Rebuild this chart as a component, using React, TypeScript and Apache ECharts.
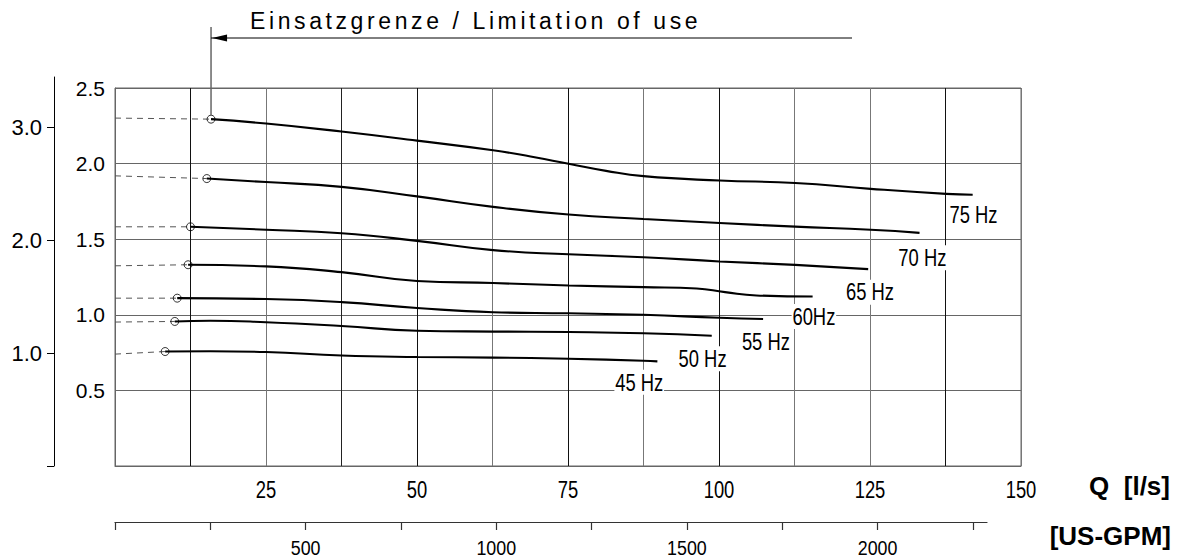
import React, { useEffect, useRef } from "react";
import * as echarts from "echarts";

const FONT = "'Liberation Sans', Arial, Helvetica, sans-serif";

// Tick labels
const qTickLabels = [25, 50, 75, 100, 125, 150];
const gpmTicks = [0, 250, 500, 750, 1000, 1250, 1500, 1750, 2000, 2250];
const gpmTickLabels = [500, 1000, 1500, 2000];
const outerTicks = [0, 1, 2, 3];
const outerTickLabels = [1, 2, 3];

// Series names
const frequencies = ["75 Hz", "70 Hz", "65 Hz", "60Hz", "55 Hz", "50 Hz", "45 Hz"];

// Curves: [Q l/s, value]
const curve75 = [[15.9, 2.294], [25.0, 2.265], [37.5, 2.212], [50.0, 2.152], [62.6, 2.088], [68.8, 2.047], [75.1, 1.999], [81.3, 1.952], [87.5, 1.917], [100.1, 1.888], [112.6, 1.872], [125.1, 1.833], [137.6, 1.800], [142.0, 1.794]];
const curve70 = [[15.2, 1.901], [25.0, 1.878], [37.5, 1.846], [50.0, 1.783], [62.6, 1.714], [75.1, 1.663], [87.5, 1.634], [100.1, 1.607], [112.6, 1.583], [125.1, 1.562], [133.2, 1.542]];
const curve65 = [[12.5, 1.582], [25.0, 1.563], [37.5, 1.539], [50.0, 1.489], [62.6, 1.428], [75.1, 1.400], [87.5, 1.381], [100.1, 1.353], [112.6, 1.330], [124.7, 1.302]];
const curve60 = [[12.1, 1.331], [25.0, 1.320], [37.5, 1.282], [50.0, 1.224], [62.6, 1.210], [75.1, 1.194], [87.5, 1.183], [96.3, 1.174], [101.0, 1.150], [106.2, 1.128], [115.5, 1.121]];
const curve55 = [[10.3, 1.110], [25.0, 1.104], [37.5, 1.084], [50.0, 1.045], [62.6, 1.017], [75.1, 1.010], [87.5, 1.000], [100.1, 0.980], [107.3, 0.972]];
const curve50 = [[9.9, 0.956], [15.8, 0.961], [25.0, 0.951], [37.5, 0.926], [50.0, 0.895], [62.6, 0.889], [75.1, 0.886], [87.5, 0.878], [98.8, 0.861]];
const curve45 = [[8.3, 0.757], [15.8, 0.759], [25.0, 0.754], [37.5, 0.731], [50.0, 0.721], [62.6, 0.717], [75.1, 0.709], [87.5, 0.696], [89.8, 0.692]];
const curves = [curve75, curve70, curve65, curve60, curve55, curve50, curve45];

// Value where the dashed lead-in starts at Q = 0
const dashStart = [2.301, 1.919, 1.582, 1.324, 1.110, 0.952, 0.740];

// Texts
const limitText = "Einsatzgrenze / Limitation of use";
const unitQ = "Q  [l/s]";
const unitGpm = "[US-GPM]";

// Styling: label offsets (px) from curve end
const labelOffsets = [[-24, 20], [-22, 25], [-23, 23], [-21, 20], [-22, 23], [-34, 23], [-43, 21]];
const vSplitColors = ["#777", "#111", "#777", "#222", "#111", "#777", "#111", "#777", "#111", "#777", "#777", "#111", "#777"];

export default function App() {
  const ref = useRef<HTMLDivElement>(null);
  useEffect(() => {
    const chart = echarts.init(ref.current!, null, { renderer: "svg" });
    const series: any[] = [];
    curves.forEach((c, i) => {
      series.push({
        type: "line",
        name: frequencies[i] + " lead",
        xAxisIndex: 0,
        yAxisIndex: 0,
        data: [[0, dashStart[i]], c[0]],
        symbol: "none",
        silent: true,
        lineStyle: { color: "#555", width: 1, type: [6, 5] },
        z: 2,
      });
      series.push({
        type: "line",
        name: frequencies[i],
        xAxisIndex: 0,
        yAxisIndex: 0,
        data: c,
        smooth: 0.5,
        symbol: "none",
        lineStyle: { color: "#000", width: 2.1 },
        z: 3,
      });
    });
    series.push({
      type: "scatter",
      name: "start",
      xAxisIndex: 0,
      yAxisIndex: 0,
      data: curves.map((c) => c[0]),
      symbol: "circle",
      symbolSize: 8,
      itemStyle: { color: "rgba(255,255,255,0)", borderColor: "#000", borderWidth: 1 },
      z: 4,
    });

    chart.setOption({
      animation: false,
      backgroundColor: "#fff",
      grid: [
        { left: 115, top: 88, width: 906, height: 378, show: true, borderColor: "#666", borderWidth: 1 },
        { left: 54, top: 77, width: 10, height: 389 },
        { left: 115, top: 521, width: 872, height: 1 },
      ],
      xAxis: [
        {
          gridIndex: 0,
          type: "value",
          min: 0,
          max: 150,
          interval: 12.5,
          axisLine: { show: true, lineStyle: { color: "#666" } },
          axisTick: { show: false },
          axisLabel: { show: false },
          splitLine: { show: true, lineStyle: { color: vSplitColors, width: 1 } },
        },
        { gridIndex: 1, type: "value", show: false, min: 0, max: 1 },
        {
          gridIndex: 2,
          type: "value",
          min: 0,
          max: 2287,
          position: "bottom",
          axisLine: { show: true, lineStyle: { color: "#333", width: 1.2 } },
          axisTick: { show: true, customValues: gpmTicks, length: 8, lineStyle: { color: "#333", width: 1.2 } },
          axisLabel: { show: false },
          splitLine: { show: false },
        },
      ],
      yAxis: [
        {
          gridIndex: 0,
          type: "value",
          min: 0,
          max: 2.5,
          interval: 0.5,
          axisLine: { show: true, lineStyle: { color: "#666" } },
          axisTick: { show: false },
          axisLabel: {
            showMinLabel: false,
            formatter: (v: number) => v.toFixed(1),
            margin: 10,
            color: "#000",
            fontFamily: FONT,
            fontSize: 21,
          },
          splitLine: { show: true, lineStyle: { color: "#666", width: 1 } },
        },
        {
          gridIndex: 1,
          type: "value",
          min: 0,
          max: 3.45,
          position: "left",
          axisLine: { show: true, lineStyle: { color: "#000", width: 1 } },
          axisTick: { show: true, customValues: outerTicks, length: 7, lineStyle: { color: "#000" } },
          axisLabel: {
            customValues: outerTickLabels,
            formatter: (v: number) => v.toFixed(1),
            margin: 12,
            color: "#000",
            fontFamily: FONT,
            fontSize: 22,
          },
          splitLine: { show: false },
        },
        { gridIndex: 2, type: "value", show: false, min: 0, max: 1 },
      ],
      series,
    });

    const g: any[] = [];
    // Q [l/s] tick labels (narrow lettering)
    qTickLabels.forEach((v) => {
      const px = chart.convertToPixel({ xAxisIndex: 0 }, v) as number;
      g.push({
        type: "text",
        x: px,
        y: 490,
        scaleX: 0.8,
        silent: true,
        style: { text: String(v), fill: "#000", font: `23px ${FONT}`, align: "center", verticalAlign: "middle" },
      });
    });
    // US-GPM tick labels
    gpmTickLabels.forEach((v) => {
      const px = chart.convertToPixel({ xAxisIndex: 2 }, v) as number;
      g.push({
        type: "text",
        x: px,
        y: 547,
        scaleX: 0.85,
        silent: true,
        style: { text: String(v), fill: "#000", font: `21px ${FONT}`, align: "center", verticalAlign: "middle" },
      });
    });
    // Frequency labels
    curves.forEach((c, i) => {
      const p = chart.convertToPixel({ gridIndex: 0 }, c[c.length - 1]) as number[];
      g.push({
        type: "text",
        x: p[0] + labelOffsets[i][0],
        y: p[1] + labelOffsets[i][1],
        scaleX: 0.8,
        z: 10,
        silent: true,
        style: {
          text: frequencies[i],
          fill: "#000",
          font: `23px ${FONT}`,
          verticalAlign: "middle",
          align: "left",
          backgroundColor: "#fff",
          padding: [1, 1],
        },
      });
    });
    const s = chart.convertToPixel({ gridIndex: 0 }, curves[0][0]) as number[];
    g.push({
      type: "line",
      z: 5,
      silent: true,
      shape: { x1: s[0], y1: 27, x2: s[0], y2: s[1] - 4 },
      style: { stroke: "#666", lineWidth: 1.5 },
    });
    g.push({
      type: "line",
      z: 5,
      silent: true,
      shape: { x1: s[0], y1: 38, x2: 852, y2: 38 },
      style: { stroke: "#000", lineWidth: 1 },
    });
    g.push({
      type: "polygon",
      z: 5,
      silent: true,
      shape: { points: [[s[0] + 1, 38], [s[0] + 16, 34.5], [s[0] + 16, 41.5]] },
      style: { fill: "#000" },
    });
    g.push({
      type: "text",
      x: 250,
      y: 21,
      z: 5,
      silent: true,
      style: { text: limitText, fill: "#000", font: `23px ${FONT}`, verticalAlign: "middle", align: "left" },
    });
    g.push({
      type: "text",
      x: 1170,
      y: 486,
      z: 5,
      silent: true,
      style: { text: unitQ, fill: "#000", font: `bold 26px ${FONT}`, verticalAlign: "middle", align: "right" },
    });
    g.push({
      type: "text",
      x: 1171,
      y: 536,
      z: 5,
      silent: true,
      style: { text: unitGpm, fill: "#000", font: `bold 26px ${FONT}`, verticalAlign: "middle", align: "right" },
    });
    chart.setOption({ graphic: g });

    // Tracked lettering of the limit caption
    const spaceTitle = () => {
      const root = ref.current;
      if (!root) return;
      root.querySelectorAll("text").forEach((t) => {
        if (t.textContent === limitText) t.setAttribute("letter-spacing", "3.6");
      });
    };
    spaceTitle();
    chart.on("finished", spaceTitle);

    return () => chart.dispose();
  }, []);
  return (
    <div
      ref={ref}
      style={{ position: "absolute", left: 0, top: 0, width: 1185, height: 559, background: "#fff" }}
    />
  );
}
